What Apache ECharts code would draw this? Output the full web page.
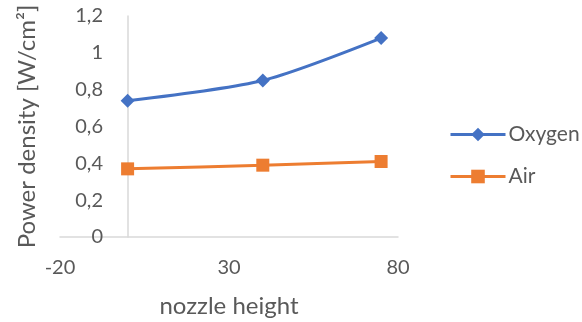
<!DOCTYPE html>
<html>
<head>
<meta charset="utf-8">
<script src="https://cdn.jsdelivr.net/npm/echarts@6/dist/echarts.min.js"></script>
<style>
  html, body { margin: 0; padding: 0; background: #fff; }
  #chart { width: 582px; height: 322px; }
</style>
</head>
<body>
<div id="chart"></div>
<script>
// Nozzle heights and measured power densities
const nozzleHeight = [0, 40, 75];
const oxygen = [0.74, 0.85, 1.08];
const air = [0.37, 0.39, 0.41];
const xTicks = [-20, 30, 80];
const yTicks = [0, 0.2, 0.4, 0.6, 0.8, 1, 1.2];

const FONT = 'Lato, "Open Sans", sans-serif';
const TEXT = '#595959';
const AXIS = '#d9d9d9';

const pairs = (xs, ys) => xs.map((x, i) => [x, ys[i]]);

const chart = echarts.init(document.getElementById('chart'));
chart.setOption({
  animation: false,
  textStyle: { fontFamily: FONT },
  grid: {
    left: 60, top: 16, width: 338, height: 221,
    containLabel: false, outerBoundsMode: 'none'
  },
  legend: {
    orient: 'vertical',
    left: 444,
    top: 119,
    itemWidth: 55,
    itemHeight: 17,
    itemGap: 21,
    lineStyle: { width: 3 },
    textStyle: { fontFamily: FONT, fontSize: 21, color: TEXT, padding: [0, 0, 0, -2] },
    data: ['Oxygen', 'Air']
  },
  xAxis: {
    type: 'value',
    min: xTicks[0],
    max: xTicks[xTicks.length - 1],
    interval: 50,
    name: 'nozzle height',
    nameLocation: 'middle',
    nameGap: 57,
    nameTextStyle: { fontFamily: FONT, fontSize: 24, color: TEXT },
    axisLine: { onZero: true, lineStyle: { color: AXIS, width: 1.5 } },
    axisTick: { show: false },
    splitLine: { show: false },
    axisLabel: { margin: 21, fontFamily: FONT, fontSize: 20, color: TEXT }
  },
  yAxis: {
    type: 'value',
    min: yTicks[0],
    max: yTicks[yTicks.length - 1],
    interval: 0.2,
    name: 'Power density [W/cm²]',
    nameLocation: 'middle',
    nameRotate: 90,
    nameGap: 21,
    nameTextStyle: { fontFamily: FONT, fontSize: 24, color: TEXT },
    axisLine: { show: true, onZero: true, lineStyle: { color: AXIS, width: 1.5 } },
    axisTick: { show: false },
    splitLine: { show: false },
    axisLabel: {
      margin: -43,
      fontFamily: FONT,
      fontSize: 20,
      color: TEXT,
      formatter: v => String(Math.round(v * 10) / 10).replace('.', ',')
    }
  },
  series: [
    {
      name: 'Oxygen',
      type: 'line',
      data: pairs(nozzleHeight, oxygen),
      smooth: 0.25,
      symbol: 'diamond',
      symbolSize: 14,
      lineStyle: { color: '#4472C4', width: 3 },
      itemStyle: { color: '#4472C4' }
    },
    {
      name: 'Air',
      type: 'line',
      data: pairs(nozzleHeight, air),
      smooth: 0.25,
      symbol: 'rect',
      symbolSize: 13,
      lineStyle: { color: '#ED7D31', width: 3 },
      itemStyle: { color: '#ED7D31' }
    }
  ]
});
</script>
</body>
</html>
